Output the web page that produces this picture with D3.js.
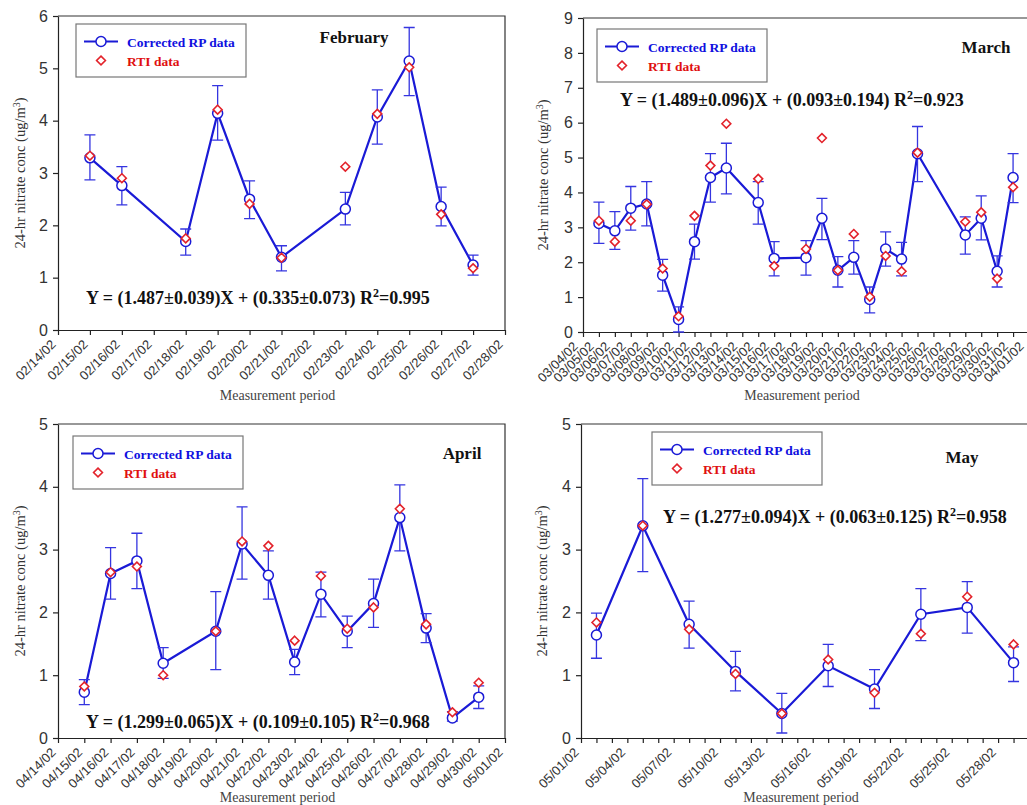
<!DOCTYPE html>
<html>
<head>
<meta charset="utf-8">
<script src="https://cdn.jsdelivr.net/npm/d3@7"></script>
<style>
  body { margin: 0; background: #fff; }
  svg { display: block; font-family: "Liberation Serif", "Times New Roman", serif; }
</style>
</head>
<body>
<svg id="chart" width="1027" height="805"></svg>
<script>
// ---- data ----
const febDates = ["02/15/02","02/16/02","02/18/02","02/19/02","02/20/02","02/21/02","02/23/02","02/24/02","02/25/02","02/26/02","02/27/02"];
const febRP    = [3.29, 2.76, 1.69, 4.14, 2.50, 1.39, 2.31, 4.07, 5.14, 2.36, 1.24];
const febRPLo  = [2.87, 2.39, 1.43, 3.63, 2.13, 1.13, 2.01, 3.55, 4.48, 1.99, 1.05];
const febRPHi  = [3.73, 3.12, 1.93, 4.67, 2.85, 1.61, 2.63, 4.59, 5.78, 2.73, 1.43];
const febRTI   = [3.33, 2.90, 1.75, 4.21, 2.41, 1.38, 3.12, 4.13, 5.02, 2.21, 1.18];
const febFit   = ["1.487\u00b10.039", "0.335\u00b10.073", "0.995"];

const marDates = ["03/05/02","03/06/02","03/07/02","03/08/02","03/09/02","03/10/02","03/11/02","03/12/02","03/13/02","03/15/02","03/16/02","03/18/02","03/19/02","03/20/02","03/21/02","03/22/02","03/23/02","03/24/02","03/25/02","03/28/02","03/29/02","03/30/02","03/31/02"];
const marRP    = [3.11, 2.90, 3.55, 3.67, 1.63, 0.36, 2.59, 4.43, 4.70, 3.71, 2.11, 2.13, 3.26, 1.77, 2.14, 0.93, 2.38, 2.09, 5.11, 2.78, 3.26, 1.74, 4.43];
const marRPLo  = [2.54, 2.37, 2.92, 3.04, 1.17, 0.00, 2.09, 3.72, 3.96, 3.09, 1.61, 1.63, 2.65, 1.29, 1.66, 0.55, 1.89, 1.61, 4.31, 2.23, 2.64, 1.29, 3.71];
const marRPHi  = [3.72, 3.45, 4.17, 4.31, 2.08, 0.72, 3.09, 5.11, 5.41, 4.31, 2.59, 2.62, 3.83, 2.16, 2.62, 1.29, 2.87, 2.57, 5.89, 3.30, 3.90, 2.18, 5.11];
const marRTI   = [3.19, 2.59, 3.19, 3.66, 1.82, 0.45, 3.33, 4.77, 5.97, 4.39, 1.89, 2.38, 5.56, 1.77, 2.81, 1.01, 2.18, 1.74, 5.14, 3.16, 3.43, 1.53, 4.15];
const marFit   = ["1.489\u00b10.096", "0.093\u00b10.194", "0.923"];

const aprDates = ["04/15/02","04/16/02","04/17/02","04/18/02","04/20/02","04/21/02","04/22/02","04/23/02","04/24/02","04/25/02","04/26/02","04/27/02","04/28/02","04/29/02","04/30/02"];
const aprRP    = [0.73, 2.62, 2.82, 1.19, 1.70, 3.09, 2.59, 1.21, 2.29, 1.70, 2.14, 3.51, 1.75, 0.32, 0.65];
const aprRPLo  = [0.53, 2.21, 2.38, 0.95, 1.09, 2.53, 2.21, 1.01, 1.93, 1.44, 1.76, 2.98, 1.52, 0.27, 0.47];
const aprRPHi  = [0.93, 3.03, 3.26, 1.44, 2.33, 3.68, 2.98, 1.41, 2.64, 1.94, 2.53, 4.03, 1.98, 0.42, 0.83];
const aprRTI   = [0.82, 2.64, 2.73, 1.00, 1.70, 3.13, 3.06, 1.55, 2.58, 1.74, 2.08, 3.65, 1.81, 0.41, 0.88];
const aprFit   = ["1.299\u00b10.065", "0.109\u00b10.105", "0.968"];

const mayDates = ["05/02/02","05/05/02","05/08/02","05/11/02","05/14/02","05/17/02","05/20/02","05/23/02","05/26/02","05/29/02"];
const mayRP    = [1.64, 3.38, 1.81, 1.06, 0.39, 1.15, 0.78, 1.97, 2.08, 1.20];
const mayRPLo  = [1.27, 2.65, 1.43, 0.75, 0.08, 0.82, 0.47, 1.55, 1.67, 0.90];
const mayRPHi  = [1.99, 4.13, 2.18, 1.38, 0.71, 1.49, 1.09, 2.38, 2.49, 1.45];
const mayRTI   = [1.84, 3.38, 1.73, 1.02, 0.39, 1.25, 0.72, 1.66, 2.25, 1.49];
const mayFit   = ["1.277\u00b10.094", "0.063\u00b10.125", "0.958"];

const blue = "#1a1ad6";
const errBlue = "#3535e0";
const red = "#e3232b";

const parse = d3.utcParse("%m/%d/%y");
const fmt = d3.utcFormat("%m/%d/%y");
const svg = d3.select("#chart");

const panels = [
    { title: "February", dates: febDates, rp: febRP, lo: febRPLo, hi: febRPHi, rti: febRTI, fit: febFit,
      start: "02/14/02", end: "02/28/02", ymax: 6, labelStep: 1, labelDx: -5,
      left: 58, right: 505, top: 16, bottom: 330, xTitleY: 400,
      legend: [76, 24], titlePos: [354, 43], eqPos: [86, 304], yLabelX: 20 },
    { title: "March", dates: marDates, rp: marRP, lo: marRPLo, hi: marRPHi, rti: marRTI, fit: marFit,
      start: "03/04/02", end: "04/01/02", ymax: 9, labelStep: 1, labelDx: -8,
      left: 583, right: 1029, top: 18, bottom: 332, xTitleY: 400,
      legend: [597, 29], titlePos: [986, 53], eqPos: [620, 106], yLabelX: 543 },
    { title: "April", dates: aprDates, rp: aprRP, lo: aprRPLo, hi: aprRPHi, rti: aprRTI, fit: aprFit,
      start: "04/14/02", end: "05/01/02", ymax: 5, labelStep: 1, labelDx: -5,
      left: 58, right: 505, top: 424, bottom: 738, xTitleY: 802,
      legend: [73, 436], titlePos: [462, 459], eqPos: [86, 728], yLabelX: 20 },
    { title: "May", dates: mayDates, rp: mayRP, lo: mayRPLo, hi: mayRPHi, rti: mayRTI, fit: mayFit,
      start: "05/01/02", end: "05/30/02", ymax: 5, labelStep: 3, labelDx: -5,
      left: 581, right: 1029, top: 424, bottom: 738, xTitleY: 802,
      legend: [652, 432], titlePos: [962, 463], eqPos: [663, 523], yLabelX: 542 }
];

function drawPanel(p) {
    const g = svg.append("g");
    const x0 = parse(p.start), x1 = parse(p.end);
    const x = d3.scaleUtc().domain([x0, x1]).range([p.left, p.right]);
    const y = d3.scaleLinear().domain([0, p.ymax]).range([p.bottom, p.top]);

    // frame top + right
    g.append("path")
        .attr("d", `M${p.left},${p.top}H${p.right}V${p.bottom}`)
        .attr("fill", "none").attr("stroke", "#333").attr("stroke-width", 1.2);

    const yAxis = d3.axisLeft(y).ticks(p.ymax).tickSize(5).tickSizeOuter(0).tickPadding(5)
        .tickFormat(d3.format("d"));
    const ya = g.append("g").attr("transform", `translate(${p.left},0)`).call(yAxis);
    ya.selectAll("text").style("font-size", "16px").attr("fill", "#333");

    const days = d3.utcDay.range(x0, d3.utcDay.offset(x1, 1));
    const xAxis = d3.axisBottom(x).tickValues(days).tickSize(5).tickSizeOuter(0)
        .tickFormat((d, i) => i % p.labelStep === 0 ? fmt(d) : "");
    const xa = g.append("g").attr("transform", `translate(0,${p.bottom})`).call(xAxis);
    xa.selectAll("text")
        .attr("x", 0).attr("y", 0).attr("dy", "0.35em")
        .attr("text-anchor", "end")
        .attr("transform", `translate(${p.labelDx},12) rotate(-45)`)
        .style("font-size", "13px").attr("fill", "#333");
    g.selectAll(".domain, .tick line").attr("stroke", "#222").attr("stroke-width", 1.2);

    // axis titles
    g.append("text")
        .attr("x", (p.left + p.right) / 2 - 4).attr("y", p.xTitleY)
        .attr("text-anchor", "middle").style("font-size", "14px").attr("fill", "#444")
        .text("Measurement period");
    const yl = g.append("text")
        .attr("transform", `translate(${p.yLabelX},${(p.top + p.bottom) / 2}) rotate(-90)`)
        .attr("text-anchor", "middle").attr("dy", "0.35em")
        .style("font-size", "14.5px").attr("fill", "#333");
    yl.append("tspan").text("24-hr nitrate conc (ug/m");
    yl.append("tspan").attr("baseline-shift", "super").style("font-size", "10px").text("3");
    yl.append("tspan").text(")");

    const pts = p.dates.map((d, i) => ({ date: parse(d), rp: p.rp[i], lo: p.lo[i], hi: p.hi[i], rti: p.rti[i] }));

    const line = d3.line().x(d => x(d.date)).y(d => y(d.rp));
    g.append("path").datum(pts).attr("d", line)
        .attr("fill", "none").attr("stroke", blue).attr("stroke-width", 2.2);

    const eb = g.append("g").attr("stroke", errBlue).attr("stroke-width", 1.3).attr("fill", "none");
    eb.selectAll("path").data(pts).join("path")
        .attr("d", d => {
            const cx = x(d.date), t = y(d.hi), b = y(d.lo);
            return `M${cx - 5.5},${t}H${cx + 5.5}M${cx},${t}V${b}M${cx - 5.5},${b}H${cx + 5.5}`;
        });

    g.selectAll("circle.rp").data(pts).join("circle").attr("class", "rp")
        .attr("cx", d => x(d.date)).attr("cy", d => y(d.rp)).attr("r", 5)
        .attr("fill", "#fff").attr("stroke", blue).attr("stroke-width", 1.5);

    const diamond = d3.symbol().type(d3.symbolDiamond2).size(50);
    g.selectAll("path.rti").data(pts).join("path").attr("class", "rti")
        .attr("d", diamond)
        .attr("transform", d => `translate(${x(d.date)},${y(d.rti)})`)
        .attr("fill", "#fff").attr("stroke", red).attr("stroke-width", 1.6);

    // legend
    const [lx, ly] = p.legend;
    const lg = g.append("g");
    lg.append("rect").attr("x", lx).attr("y", ly).attr("width", 170).attr("height", 53)
        .attr("fill", "#fff").attr("stroke", "#777").attr("stroke-width", 1.2);
    lg.append("line").attr("x1", lx + 8).attr("x2", lx + 42).attr("y1", ly + 17.5).attr("y2", ly + 17.5)
        .attr("stroke", blue).attr("stroke-width", 2);
    lg.append("circle").attr("cx", lx + 25).attr("cy", ly + 17.5).attr("r", 5)
        .attr("fill", "#fff").attr("stroke", blue).attr("stroke-width", 1.5);
    lg.append("path").attr("d", diamond).attr("transform", `translate(${lx + 25},${ly + 36.5})`)
        .attr("fill", "#fff").attr("stroke", red).attr("stroke-width", 1.6);
    lg.append("text").attr("x", lx + 51).attr("y", ly + 22.5)
        .style("font-size", "13.5px").style("font-weight", "bold").attr("fill", "#1010e0")
        .text("Corrected RP data");
    lg.append("text").attr("x", lx + 51).attr("y", ly + 41.5)
        .style("font-size", "13.5px").style("font-weight", "bold").attr("fill", "#e01010")
        .text("RTI data");

    // month title
    g.append("text").attr("x", p.titlePos[0]).attr("y", p.titlePos[1])
        .attr("text-anchor", "middle").style("font-size", "17px").style("font-weight", "bold")
        .attr("fill", "#111").text(p.title);

    // regression equation
    const eq = g.append("text").attr("x", p.eqPos[0]).attr("y", p.eqPos[1])
        .style("font-size", "18px").style("font-weight", "bold").attr("fill", "#111");
    eq.append("tspan").text(`Y = (${p.fit[0]})X + (${p.fit[1]}) R`);
    eq.append("tspan").attr("baseline-shift", "super").style("font-size", "12px").text("2");
    eq.append("tspan").text(`=${p.fit[2]}`);
}

panels.forEach(drawPanel);
</script>
</body>
</html>
